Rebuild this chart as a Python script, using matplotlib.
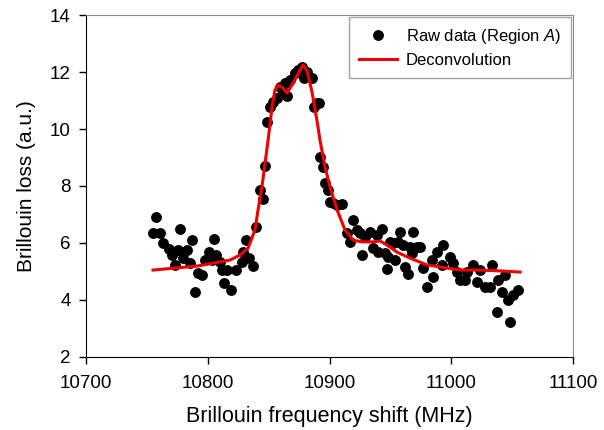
import matplotlib
matplotlib.use('Agg')
import matplotlib.pyplot as plt

plt.rcParams['font.family'] = ['Liberation Sans', 'DejaVu Sans']
plt.rcParams['mathtext.fontset'] = 'custom'
plt.rcParams['mathtext.rm'] = 'Liberation Sans'
plt.rcParams['mathtext.it'] = 'Liberation Sans:italic'

# Raw data (Region A)
raw_f = [10755.0, 10757.5, 10760.8, 10763.2, 10768.2, 10770.6, 10773.1, 10775.6, 10777.2, 10779.7,
         10783.0, 10785.4, 10787.1, 10789.5, 10792.0, 10795.3, 10797.7, 10801.0, 10803.5, 10805.1,
         10806.8, 10810.1, 10811.7, 10813.3, 10815.8, 10819.1, 10823.2, 10828.1, 10829.0, 10831.4,
         10833.9, 10837.2, 10839.6, 10842.9, 10845.4, 10847.0, 10848.7, 10851.1, 10853.6, 10856.9,
         10859.3, 10861.8, 10863.4, 10865.1, 10867.6, 10871.7, 10874.1, 10877.4, 10879.1, 10881.5,
         10885.6, 10887.3, 10889.7, 10891.4, 10892.2, 10894.7, 10896.3, 10898.8, 10900.4, 10902.9,
         10906.2, 10910.3, 10914.4, 10916.8, 10919.3, 10922.6, 10925.1, 10926.7, 10929.2, 10933.3,
         10935.7, 10939.0, 10939.8, 10943.1, 10945.6, 10947.0, 10948.0, 10949.7, 10952.2, 10953.8,
         10956.3, 10957.9, 10960.4, 10962.0, 10964.5, 10966.1, 10967.8, 10968.6, 10971.9, 10974.3,
         10976.8, 10980.1, 10984.2, 10985.0, 10988.3, 10992.4, 10993.2, 10999.0, 11001.4, 11004.7,
         11007.2, 11011.3, 11012.9, 11017.9, 11021.1, 11023.6, 11027.7, 11031.8, 11033.5, 11037.6,
         11038.4, 11041.7, 11044.1, 11046.6, 11048.2, 11050.7, 11054.8]
raw_loss = [6.35, 6.91, 6.35, 6.00, 5.79, 5.58, 5.23, 5.75, 6.49, 5.47,
            5.75, 5.30, 6.11, 4.28, 4.95, 4.88, 5.40, 5.68, 5.40, 6.14,
            5.58, 5.33, 5.05, 4.60, 5.05, 4.35, 5.05, 5.33, 5.68, 6.11,
            5.47, 5.19, 6.56, 7.86, 7.54, 8.70, 10.25, 10.77, 10.95, 11.09,
            11.47, 11.30, 11.61, 11.16, 11.72, 11.96, 12.07, 12.18, 11.79, 12.00,
            11.79, 10.77, 10.91, 10.91, 9.02, 8.67, 8.11, 7.86, 7.44, 7.40,
            7.33, 7.37, 6.35, 6.04, 6.81, 6.46, 6.35, 5.58, 6.21, 6.39,
            5.82, 6.28, 5.68, 6.49, 5.65, 5.09, 5.51, 6.04, 6.00, 5.40,
            6.04, 6.39, 5.93, 5.16, 4.91, 5.86, 5.65, 6.39, 5.86, 5.86,
            5.12, 4.46, 5.40, 4.81, 5.68, 5.23, 5.93, 5.51, 5.30, 4.98,
            4.70, 4.70, 4.98, 5.23, 4.63, 5.05, 4.46, 4.46, 5.23, 3.58,
            4.70, 4.28, 4.88, 4.00, 3.23, 4.18, 4.35]

# Deconvolution curve
fit_f = [10755.0, 10791.2, 10818.3, 10826.5, 10833.1, 10838.8, 10841.3, 10844.6, 10849.5, 10852.8,
         10855.2, 10857.7, 10861.8, 10865.1, 10870.0, 10875.8, 10878.2, 10881.5, 10885.6, 10889.7,
         10892.2, 10896.3, 10900.4, 10906.2, 10912.7, 10919.3, 10926.7, 10935.7, 10941.5, 10947.2,
         10955.4, 10966.1, 10980.1, 10990.8, 11007.2, 11023.6, 11040.0, 11056.5]
fit_loss = [5.05, 5.19, 5.40, 5.58, 5.82, 6.46, 7.16, 8.00, 9.60, 10.77,
            11.37, 11.54, 11.44, 11.26, 11.60, 12.07, 12.25, 12.05, 11.30, 10.30,
            9.60, 8.67, 7.96, 7.16, 6.46, 6.10, 6.04, 6.04, 6.07, 5.93,
            5.68, 5.47, 5.23, 5.16, 5.05, 5.05, 5.02, 4.98]

fig = plt.figure(figsize=(6.04, 4.30), dpi=100)
ax = fig.add_axes([0.1424, 0.1698, 0.8063, 0.7953])

ax.plot(raw_f, raw_loss, 'o', color='black', markersize=6.8, label='Raw data (Region $\\mathit{A}$)', zorder=2)
ax.plot(fit_f, fit_loss, '-', color='#f00000', linewidth=2.2, label='Deconvolution', zorder=3)

ax.set_xlim(10700, 11100)
ax.set_ylim(2, 14)
ax.set_xticks([10700, 10800, 10900, 11000, 11100])
ax.set_yticks([2, 4, 6, 8, 10, 12, 14])
ax.tick_params(direction='out', length=5, width=1, labelsize=13.5, pad=6)
ax.tick_params(axis='x', pad=8)

ax.spines['left'].set_color('black')
ax.spines['bottom'].set_color('black')
ax.spines['top'].set_color('#8c8c8c')
ax.spines['right'].set_color('#8c8c8c')

ax.set_xlabel('Brillouin frequency shift (MHz)', fontsize=15.5, labelpad=10)
ax.set_ylabel('Brillouin loss (a.u.)', fontsize=15, labelpad=10)

leg = ax.legend(loc='upper right', fontsize=12, frameon=True, fancybox=False,
                edgecolor='#8c8c8c', borderaxespad=0.1, handlelength=2.3,
                handletextpad=0.55, labelspacing=0.45, borderpad=0.6)
leg.get_frame().set_linewidth(1.0)

fig.savefig('out.png', dpi=100)
